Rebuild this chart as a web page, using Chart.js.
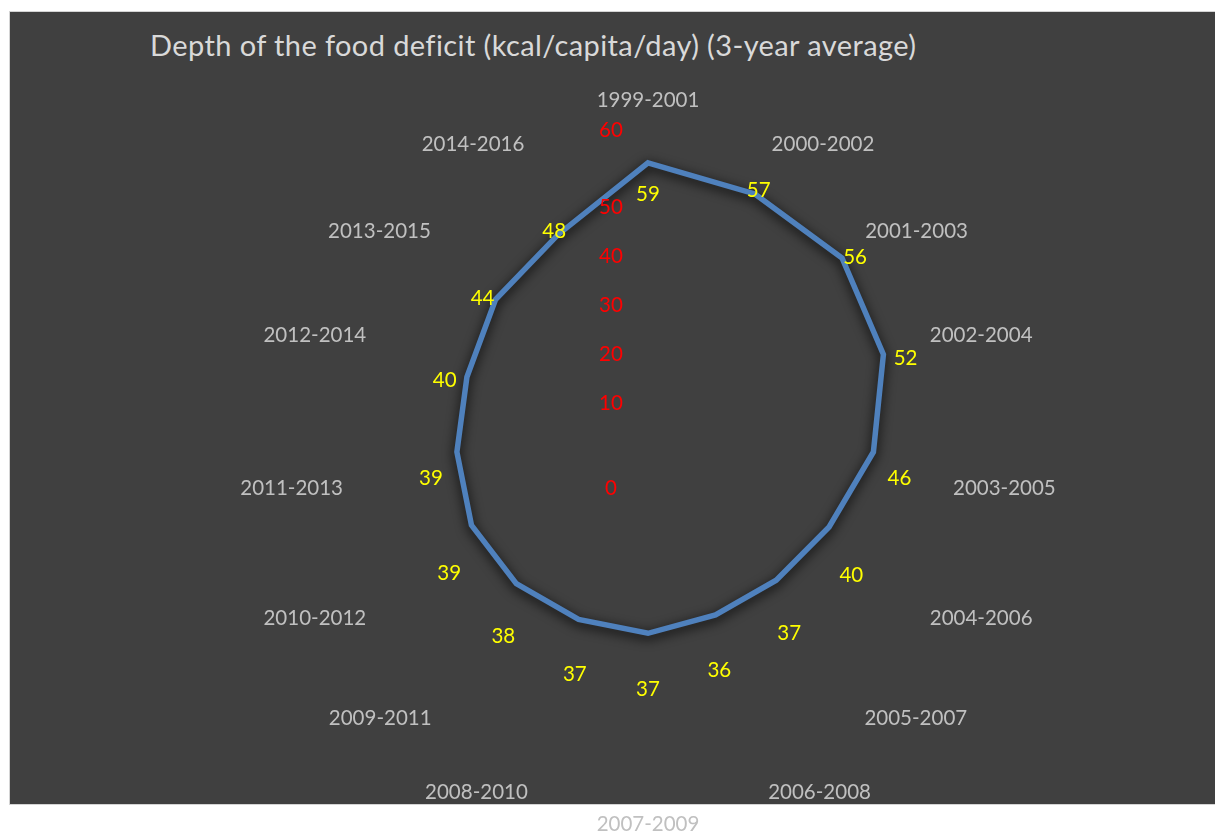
<!DOCTYPE html>
<html>
<head>
<meta charset="utf-8">
<script src="https://cdn.jsdelivr.net/npm/chart.js@4.4.1/dist/chart.umd.min.js"></script>
<style>
    body { margin: 0; background: #fff; width: 1215px; height: 834px; overflow: hidden; position: relative; }
    #box { position: absolute; left: 9px; top: 11px; width: 1210px; height: 792px; background: #404040; border: 1px solid #d4d4d4; }
    #title { position: absolute; left: 150px; top: 27px; color: #d9d9d9; font-family: Lato, sans-serif; font-size: 29px; letter-spacing: 0.4px; white-space: nowrap; }
    #chartWrap { position: absolute; left: 0; top: 0; width: 1215px; height: 920px; }
</style>
</head>
<body>
<div id="box"></div>
<div id="title">Depth of the food deficit (kcal/capita/day) (3-year average)</div>
<div id="chartWrap"><canvas id="deficitChart" width="1215" height="920"></canvas></div>
<script>
const categories = ['1999-2001', '2000-2002', '2001-2003', '2002-2004', '2003-2005', '2004-2006', '2005-2007', '2006-2008',
    '2007-2009', '2008-2010', '2009-2011', '2010-2012', '2011-2013', '2012-2014', '2013-2015', '2014-2016'];
const deficitValues = [59, 57, 56, 52, 46, 40, 37, 36, 37, 37, 38, 39, 39, 40, 44, 48];
const radialTicks = [0, 10, 20, 30, 40, 50, 60];

const labelFont = '20.5px Lato, sans-serif';

function angleOf(i) {
    return i * 2 * Math.PI / categories.length;
}

// soft dark shadow under the line, like the Excel original
const lineShadow = {
    id: 'lineShadow',
    beforeDatasetDraw(chart) {
        const ctx = chart.ctx;
        ctx.save();
        ctx.shadowColor = 'rgba(0, 0, 0, 0.95)';
        ctx.shadowBlur = 12;
        ctx.shadowOffsetY = 3;
    },
    afterDatasetDraw(chart) {
        chart.ctx.restore();
    }
};

// red value labels of the radial axis, left of the centre
const redTicks = {
    id: 'redTicks',
    afterDatasetsDraw(chart) {
        const scale = chart.scales.r;
        const ctx = chart.ctx;
        ctx.save();
        ctx.font = labelFont;
        ctx.fillStyle = '#ff0000';
        ctx.textAlign = 'center';
        ctx.textBaseline = 'middle';
        radialTicks.forEach(v => {
            let y = scale.yCenter - scale.getDistanceFromCenterForValue(v);
            if (v === scale.min) y += 36;
            if (v === scale.max) y -= 28;
            ctx.fillText(String(v), scale.xCenter - 37, y);
        });
        ctx.restore();
    }
};

// yellow data labels next to each point
const valueLabels = {
    id: 'valueLabels',
    afterDatasetsDraw(chart) {
        const scale = chart.scales.r;
        const meta = chart.getDatasetMeta(0);
        const ctx = chart.ctx;
        ctx.save();
        ctx.font = labelFont;
        ctx.fillStyle = '#ffff00';
        ctx.textAlign = 'center';
        ctx.textBaseline = 'middle';
        meta.data.forEach((pt, i) => {
            const a = scale.getIndexAngle(i);
            const s = Math.sin(a), c = Math.cos(a);
            const dx = 26 * s * Math.abs(s);
            // label of the top vertex sits inside the apex
            const dy = c > 0.99 ? 31 : 26 - 30 * Math.sign(c) * Math.pow(Math.abs(c), 0.3);
            ctx.fillText(String(deficitValues[i]), pt.x + dx, pt.y + dy);
        });
        ctx.restore();
    }
};

const ctx = document.getElementById('deficitChart').getContext('2d');
new Chart(ctx, {
    type: 'radar',
    data: {
        labels: categories,
        datasets: [{
            label: 'Depth of the food deficit',
            data: deficitValues,
            borderColor: '#4f81bd',
            borderWidth: 5.5,
            borderJoinStyle: 'miter',
            fill: false,
            pointRadius: 0,
            pointHoverRadius: 0
        }]
    },
    options: {
        responsive: false,
        animation: false,
        layout: {
            padding: { left: 81, right: 0, top: 60, bottom: 16 }
        },
        plugins: {
            legend: { display: false },
            tooltip: { enabled: false }
        },
        scales: {
            r: {
                min: 0,
                max: 60,
                grid: { display: false },
                angleLines: { display: false },
                ticks: { display: false, stepSize: 10 },
                pointLabels: {
                    color: '#c0c0c0',
                    callback: function (label, i) {
                        // side labels sit a little below the horizontal axis
                        return Math.abs(Math.cos(angleOf(i))) < 0.01 ? ['', label] : label;
                    },
                    font: function (c) {
                        const cs = Math.cos(angleOf(c.index));
                        let lh;
                        if (Math.abs(cs) < 0.01) lh = 72;
                        else if (cs > 0) lh = Math.max(0.5, 24.6 * Math.pow(cs, 4));
                        else lh = 100;
                        return { family: 'Lato, sans-serif', size: 20.5, lineHeight: lh.toFixed(2) + 'px' };
                    },
                    padding: function (c) {
                        const cs = Math.cos(angleOf(c.index));
                        return 11 + (cs > 0 ? 34 : 17) * Math.pow(cs, 8);
                    }
                }
            }
        }
    },
    plugins: [lineShadow, redTicks, valueLabels]
});
</script>
</body>
</html>
